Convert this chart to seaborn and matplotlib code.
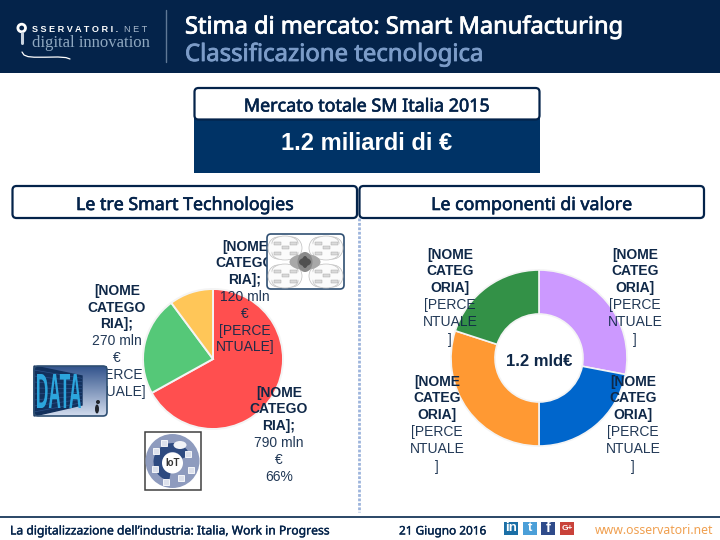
import numpy as np
import pandas as pd
import matplotlib
matplotlib.use("Agg")
import matplotlib.pyplot as plt
import matplotlib.patheffects as pe
from matplotlib.patches import FancyBboxPatch, Rectangle, Circle, Ellipse, Wedge, PathPatch
from matplotlib.textpath import TextPath
from matplotlib.font_manager import FontProperties
from matplotlib.transforms import Affine2D
import seaborn as sns

# ---------- data ----------
tech_names = ["IoT", "Data", "Cloud"]
tech_values = [790, 270, 120]
tech_colors = ["#FF4F4F", "#55C878", "#FFC658"]
comp_names = ["A", "B", "C", "D"]
comp_values = [28, 22, 30, 20]
comp_colors = ["#CC99FF", "#0066CC", "#FF9933", "#339147"]

title = "Stima di mercato: Smart Manufacturing"
subtitle = "Classificazione tecnologica"
box_head = "Mercato totale SM Italia 2015"
box_value = "1.2 miliardi di €"
panel_left = "Le tre Smart Technologies"
panel_right = "Le componenti di valore"
center_text = "1.2 mld€"
footer_left = "La digitalizzazione dell’industria: Italia, Work in Progress"
footer_date = "21 Giugno 2016"
footer_web = "www.osservatori.net"

NAVY = "#04234A"
BLUE = "#003366"
TXT = "#0F2848"
HEAD_FONT = ["Noto Sans", "DejaVu Sans"]
LAB_FONT = ["Liberation Sans", "DejaVu Sans"]

sns.set_theme(style="white")
plt.rcParams["font.family"] = LAB_FONT

W, H = 720, 540
fig = plt.figure(figsize=(7.2, 5.4), dpi=100, facecolor="white")


def px_axes(z):
    ax = fig.add_axes([0, 0, 1, 1], zorder=z)
    ax.set_xlim(0, W)
    ax.set_ylim(H, 0)
    ax.axis("off")
    ax.patch.set_alpha(0)
    return ax


def pie_axes(cx, cy, r):
    pad = r * 1.02
    ax = fig.add_axes([(cx - pad) / W, 1 - (cy + pad) / H, 2 * pad / W, 2 * pad / H], zorder=2)
    ax.axis("off")
    return ax


def pie_limits(ax):
    ax.set_xlim(-1.02, 1.02)
    ax.set_ylim(-1.02, 1.02)
    ax.set_aspect("equal")


bg = px_axes(1)
top = px_axes(3)


def rbox(ax, x0, y0, x1, y1, fc="white", ec=NAVY, lw=1.6, rad=4, z=2):
    ax.add_patch(FancyBboxPatch((x0 + rad, y0 + rad), x1 - x0 - 2 * rad, y1 - y0 - 2 * rad,
                                boxstyle=f"round,pad={rad},rounding_size={rad}",
                                fc=fc, ec=ec, lw=lw, zorder=z))


def heavy(ax, x, y, s, color, size, lw=0.55, **kw):
    t = ax.text(x, y, s, color=color, fontsize=size, family=HEAD_FONT, va="center", **kw)
    t.set_path_effects([pe.withStroke(linewidth=lw, foreground=color)])
    return t


# ---------- header ----------
bg.add_patch(Rectangle((0, 0), W, 73, fc=NAVY, ec="none"))
bg.plot([166, 166], [10, 62], color="#5F7896", lw=1)
heavy(bg, 185, 27.5, title, "white", 17, lw=0.6)
heavy(bg, 185, 55, subtitle, "#7C9CC8", 17.2, lw=0.6)

# logo
bg.add_patch(Circle((21.7, 28), 3.8, fc="none", ec="white", lw=2))
bg.plot([21.7, 21.7], [33, 43], color="#C8D2DE", lw=2.2)
bg.text(32, 29.5, "S S E R V A T O R I .", color="white", fontsize=6.6, fontweight="bold", family=LAB_FONT, va="center")
bg.text(124, 29.5, "N E T", color="#A9BACD", fontsize=6.6, family=LAB_FONT, va="center")
bg.text(32, 43, "digital innovation", color="#8FA8C0", fontsize=12, family=["Liberation Serif"], va="center")
bg.plot([22, 24, 28, 34, 45, 58, 66, 70], [52, 55, 56.6, 57.2, 57.2, 57, 57.6, 59], color="white", lw=0.9)

# ---------- total box ----------
bg.add_patch(Rectangle((194, 118), 346, 55, fc=BLUE, ec="none"))
rbox(bg, 194.5, 88, 539.5, 119.5)
heavy(bg, 367, 106.5, box_head, NAVY, 12.9, lw=0.45, ha="center", zorder=4)
bg.text(367, 143.5, box_value, color="white", fontsize=17, fontweight="bold", family=LAB_FONT, ha="center", va="center", zorder=4)

# ---------- panel heads ----------
rbox(bg, 12.5, 186, 357, 218)
rbox(bg, 359.5, 186, 704, 218)
heavy(bg, 185, 205, panel_left, NAVY, 12.8, lw=0.45, ha="center", zorder=4)
heavy(bg, 532, 205, panel_right, NAVY, 12.8, lw=0.45, ha="center", zorder=4)
bg.plot([359, 359], [218, 512], color="#9DB4DC", lw=2, ls=(0, (1, 0.6)))

# ---------- footer ----------
bg.plot([0, W], [517, 517], color="#2A4666", lw=1.4)
heavy(bg, 10, 531, footer_left, NAVY, 8.75, lw=0.25)
heavy(bg, 399, 531, footer_date, NAVY, 8.5, lw=0.25)
bg.text(595, 531, footer_web, color="#F0A050", fontsize=8.8, family=HEAD_FONT, va="center")
for x, col, s, fs in [(504, "#1B6FA6", "in", 9.5), (523, "#4B9FD8", "t", 9.5), (541, "#2F4B8A", "f", 10.5), (560, "#C9423A", "G+", 6)]:
    bg.add_patch(Rectangle((x, 522), 14, 13, fc=col, ec="none"))
    bg.text(x + 7, 528.3, s, color="white", fontsize=fs, fontweight="bold", ha="center", va="center")

# ---------- pies ----------
ax1 = pie_axes(213, 359, 70)
ax1.pie(tech_values, colors=sns.color_palette(tech_colors), startangle=90, counterclock=False,
        radius=1, wedgeprops=dict(edgecolor="#F4F4F4", linewidth=1.4))
pie_limits(ax1)
ax2 = pie_axes(539, 358, 88)
ax2.pie(comp_values, colors=sns.color_palette(comp_colors), startangle=90, counterclock=False,
        radius=1, wedgeprops=dict(width=0.5, edgecolor="#F4F4F4", linewidth=1.2))
pie_limits(ax2)


# ---------- labels ----------
def label(x, ys, lines, nbold=3):
    for i, (y, s) in enumerate(zip(ys, lines)):
        top.text(x, y + 1, s, color=TXT, fontsize=10, fontweight="bold" if i < nbold else "normal",
                 ha="center", va="center", family=LAB_FONT, alpha=1 if i < nbold else 0.92, zorder=3)


label(245, [246, 262, 279, 296, 313, 330, 346],
      ["[NOME", "CATEGO", "RIA];", "120 mln", "€", "[PERCE", "NTUALE]"])
label(117, [290, 307, 323, 340, 357, 374, 391],
      ["[NOME", "CATEGO", "RIA];", "270 mln", "€", "[PERCE", "NTUALE]"])
label(279, [392, 408, 425, 442, 459, 476],
      ["[NOME", "CATEGO", "RIA];", "790 mln", "€", "66%"])
donut_lines = ["[NOME", "CATEG", "ORIA]", "[PERCE", "NTUALE", "]"]
label(450, [254, 270, 287, 304, 321, 339], donut_lines)
label(635, [254, 270, 287, 304, 321, 339], donut_lines)
label(437, [381, 397, 414, 431, 448, 466], donut_lines)
label(633, [381, 397, 414, 431, 448, 466], donut_lines)
top.text(539, 361, center_text, color=TXT, fontsize=12, fontweight="bold", ha="center", va="center", family=LAB_FONT)

# ---------- pictures ----------
# concept map (top right)
rbox(top, 267, 234, 344, 289, fc="white", ec="#2F4F72", lw=1.2, rad=4, z=5)
for cx, cy in [(285, 248), (326, 248), (285, 276), (326, 276)]:
    for ox, oy, ew, eh in [(-7, 0, 20, 22), (7, 0, 20, 22), (0, -5, 26, 14), (0, 5, 26, 14)]:
        top.add_patch(Ellipse((cx + ox, cy + oy), ew, eh, fc="#FBFBFB", ec="#BDBDBD", lw=0.5, zorder=6))
for cx, cy in [(285, 248), (326, 248), (285, 276), (326, 276)]:
    top.add_patch(Ellipse((cx, cy), 28, 20, fc="#FBFBFB", ec="none", zorder=6))
    for dx, dy in [(-8, -5), (8, -5), (-8, 5), (8, 5), (0, -1)]:
        top.add_patch(Rectangle((cx + dx - 3.5, cy + dy - 1.5), 7, 3, fc="#DADADA", ec="#A0A0A0", lw=0.3, zorder=6))
top.add_patch(Ellipse((305, 262), 31, 16, fc="#A8A8A8", ec="none", zorder=7))
top.add_patch(Ellipse((305, 262), 15, 20, fc="#8A8A8A", ec="none", zorder=7))
top.add_patch(Ellipse((305, 262), 12, 8, fc="#505050", ec="none", zorder=7))
top.add_patch(Ellipse((305, 262), 6, 12, fc="#505050", ec="none", zorder=7))

# DATA picture
grad = np.linspace(0, 1, 50)[:, None, None]
sky = (1 - grad) * np.array([[[0.20, 0.33, 0.55]]]) + grad * np.array([[[0.82, 0.86, 0.93]]])
top.imshow(sky, extent=(34, 107, 416, 366), aspect="auto", zorder=5)
top.set_xlim(0, W)
top.set_ylim(H, 0)
top.fill([34, 82, 82, 34], [366, 376, 405, 416], color="#12305C", zorder=6)
for t in np.linspace(0.08, 0.92, 8):
    top.plot([34, 82], [366 + t * 50, 376 + t * 29], color="#2B4F86", lw=0.5, zorder=6)
tp = TextPath((0, 0), "DATA", size=1, prop=FontProperties(family="Liberation Sans", weight="bold"))
bb = tp.get_extents()
tf = Affine2D().translate(-bb.x0, -bb.y0).scale(44 / bb.width, -34 / bb.height).translate(37, 408) + top.transData
top.add_patch(PathPatch(tp, fc="#2CA5DC", ec="none", transform=tf, zorder=7))
top.add_patch(Ellipse((97, 409), 4, 9, fc="#20242C", ec="none", zorder=7))
top.add_patch(Circle((98, 402), 2, fc="#20242C", ec="none", zorder=7))
rbox(top, 34, 366, 107, 416, fc="none", ec="#2F4F72", lw=1.2, rad=4, z=8)

# IoT picture
top.add_patch(Rectangle((144.5, 432), 56.5, 58, fc="white", ec="#404040", lw=1.1, zorder=5))
top.add_patch(Circle((172.5, 461), 27, fc="#8E9BBE", ec="none", zorder=6))
top.add_patch(Wedge((172.5, 462), 19, 100, 340, width=9, fc="#2E4A80", ec="none", zorder=7))
top.add_patch(Circle((172.5, 463), 10.5, fc="white", ec="none", zorder=8))
top.text(172.5, 463, "IoT", color="#333333", fontsize=7, fontweight="bold", ha="center", va="center", zorder=9)
for x, y in [(156, 451), (188, 454), (191, 470), (166, 482), (181, 478), (155, 469), (164, 443)]:
    top.add_patch(Rectangle((x - 3, y - 3), 6, 6, fc="#DDE1EC", ec="white", lw=0.6, zorder=9))
top.add_patch(Ellipse((180, 445), 13, 8, fc="#F2F3F7", ec="none", zorder=9))

fig.savefig("out.png", dpi=100, facecolor="white")
